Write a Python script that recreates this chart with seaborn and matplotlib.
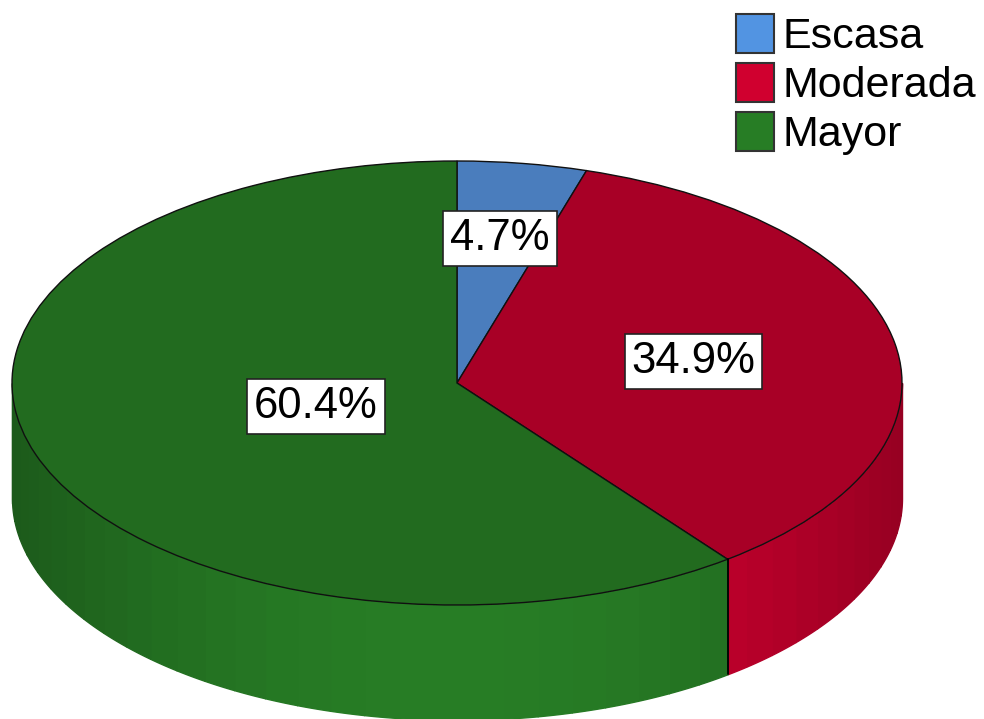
import numpy as np
import pandas as pd
import seaborn as sns
import matplotlib.pyplot as plt
from matplotlib.patches import Patch

categories = ['Escasa', 'Moderada', 'Mayor']
percent = [4.7, 34.9, 60.4]
legend_colors = ['#5294e2', '#d0002f', '#277d25']
top_colors = ['#4a7dbd', '#a80026', '#226b1f']

# where the value boxes sit along each slice's middle angle
label_radius = [0.66, 0.54, 0.335]

sns.set_theme(style='white')
plt.rcParams['font.family'] = ['Liberation Sans', 'DejaVu Sans']

W, H = 984, 719
cx, cy = 457, 383
rx, ry = 445, 222
depth = 115 / ry
strip = 4.5


def main():
	df = pd.DataFrame({'cat': categories, 'pct': percent})
	edges = np.cumsum([0] + list(df['pct'])) * 360 / df['pct'].sum()

	fig = plt.figure(figsize=(W / 100, H / 100), dpi=100)
	ax = fig.add_axes([0, 0, 1, 1])

	# side wall, only the front half of the disc is visible
	for i in range(len(df)):
		start = max(edges[i], 90)
		stop = min(edges[i + 1], 270)
		if start >= stop:
			continue
		steps = np.append(np.arange(start, stop, strip), stop)
		for a, b in zip(steps[:-1], steps[1:]):
			t = np.radians(np.linspace(a, b, 12))
			mid = np.radians((a + b) / 2)
			shade = 1 - 0.28 * np.sin(mid) ** 2
			col = np.array(sns.desaturate(legend_colors[i], 1)) * shade
			x = np.sin(t)
			y = np.cos(t)
			ax.fill_between(x, y, y - depth, color=col, lw=1.0)
		if 90 < edges[i] < 270:
			x = np.sin(np.radians(edges[i]))
			y = np.cos(np.radians(edges[i]))
			ax.plot([x, x], [y, y - depth], color='black', lw=1.3)

	ax.pie(df['pct'], colors=top_colors, startangle=90, counterclock=False,
		   wedgeprops={'edgecolor': '#101010', 'linewidth': 1.0})
	ax.set_aspect('auto')
	ax.set_xlim(-cx / rx, (W - cx) / rx)
	ax.set_ylim(-(H - cy) / ry, cy / ry)
	ax.axis('off')

	for i in range(len(df)):
		mid = np.radians((edges[i] + edges[i + 1]) / 2)
		r = label_radius[i]
		ax.text(r * np.sin(mid), r * np.cos(mid), f"{df['pct'][i]:.1f}%",
				ha='center', va='center', fontsize=31.5, color='black', zorder=5,
				bbox={'boxstyle': 'square,pad=0.16', 'fc': 'white', 'ec': '#222222', 'lw': 1.2})

	handles = [Patch(facecolor=c, edgecolor='#333333', linewidth=1.5) for c in legend_colors]
	fig.legend(handles, categories, loc='upper left', bbox_to_anchor=(736 / W, 1 - 14 / H),
			   frameon=False, fontsize=31, labelcolor='black', borderpad=0, borderaxespad=0,
			   handlelength=0.88, handleheight=1.0, handletextpad=0.2, labelspacing=0.14)

	fig.savefig('out.png', dpi=100)
	plt.close()


if __name__ == "__main__":
	main()
